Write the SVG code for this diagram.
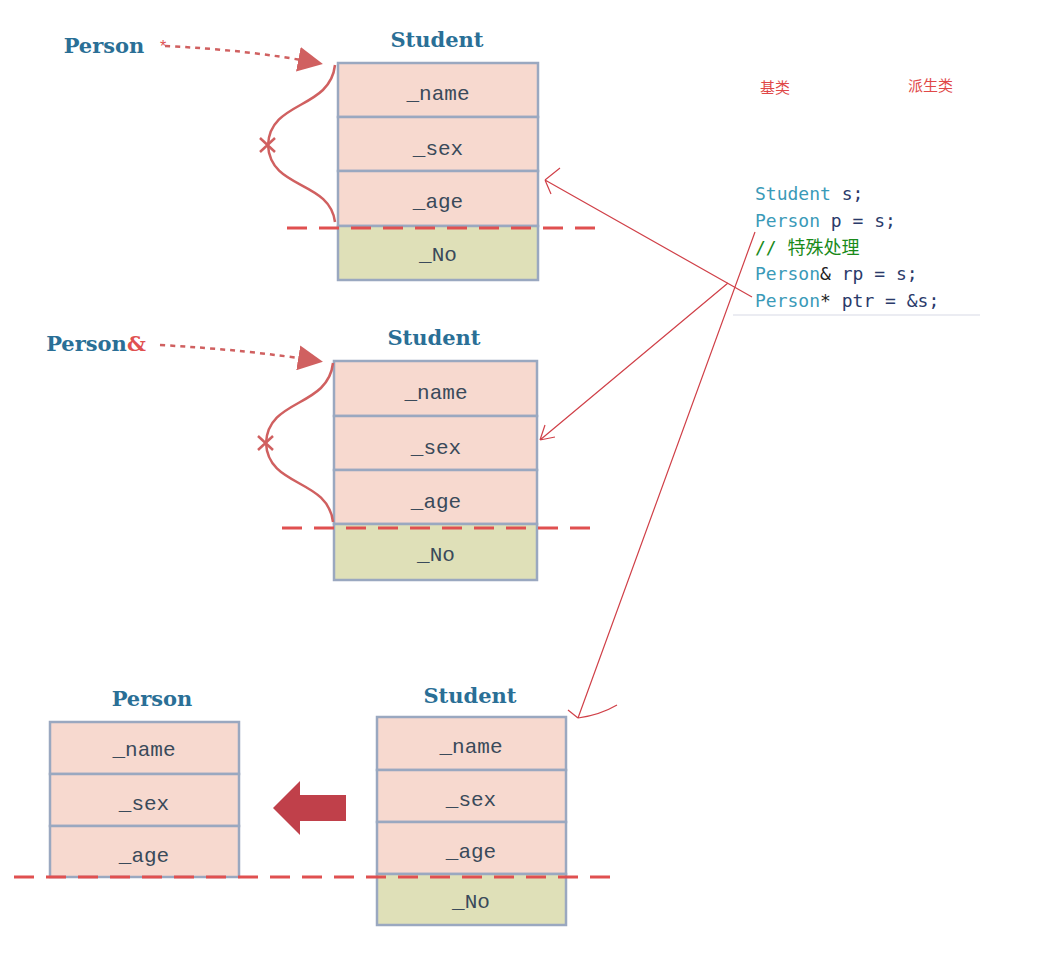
<svg xmlns="http://www.w3.org/2000/svg" width="1052" height="956" viewBox="0 0 1052 956">
<style>
.t{font-family:"DejaVu Serif","Liberation Serif",serif;font-weight:bold;fill:#2a6f96;font-size:21px;text-anchor:middle}
.f{font-family:"Liberation Mono",monospace;font-size:21px;fill:#3a4a5a;text-anchor:middle}
.p{fill:#f7d9cf;stroke:#9aa8c0;stroke-width:2.5}
.g{fill:#dfe0b8;stroke:#9aa8c0;stroke-width:2.5}
.dl{stroke:#e05050;stroke-width:3;stroke-dasharray:20,12;fill:none}
.rl{stroke:#d04048;stroke-width:1.2;fill:none}
.cv{stroke:#d06060;stroke-width:2.5;fill:none}
.c{font-family:"DejaVu Sans Mono",monospace;font-size:18px}
</style>
<defs><marker id="ah" markerWidth="10" markerHeight="10" refX="8" refY="5" orient="auto"><path d="M0,0L10,5L0,10z" fill="#d06060"/></marker></defs>
<rect width="1052" height="956" fill="#fff"/>
<g id="n1">
<text class="t" x="437" y="47">Student</text>
<rect class="p" x="338" y="63" width="200" height="54"/><text class="f" x="438" y="100">_name</text>
<rect class="p" x="338" y="117" width="200" height="54"/><text class="f" x="438" y="155">_sex</text>
<rect class="p" x="338" y="171" width="200" height="55"/><text class="f" x="438" y="208">_age</text>
<rect class="g" x="338" y="226" width="200" height="54"/><text class="f" x="438" y="261">_No</text>
<text class="t" x="104" y="53">Person</text><text x="160" y="52" fill="#e05050" font-size="16" font-family="Liberation Sans,sans-serif">*</text>
</g>
<g id="n2">
<text class="t" x="434" y="345">Student</text>
<rect class="p" x="334" y="361" width="203" height="55"/><text class="f" x="436" y="399">_name</text>
<rect class="p" x="334" y="416" width="203" height="54"/><text class="f" x="436" y="454">_sex</text>
<rect class="p" x="334" y="470" width="203" height="54"/><text class="f" x="436" y="508">_age</text>
<rect class="g" x="334" y="524" width="203" height="56"/><text class="f" x="436" y="561">_No</text>
<text class="t" x="96" y="351">Person<tspan fill="#e05050">&amp;</tspan></text>
</g>
<g id="n3">
<text class="t" x="152" y="706">Person</text>
<rect class="p" x="50" y="722" width="189" height="52"/><text class="f" x="144" y="756">_name</text>
<rect class="p" x="50" y="774" width="189" height="52"/><text class="f" x="144" y="810">_sex</text>
<rect class="p" x="50" y="826" width="189" height="51"/><text class="f" x="144" y="862">_age</text>
</g>
<g id="n4">
<text class="t" x="470" y="703">Student</text>
<rect class="p" x="377" y="717" width="189" height="53"/><text class="f" x="471" y="753">_name</text>
<rect class="p" x="377" y="770" width="189" height="52"/><text class="f" x="471" y="806">_sex</text>
<rect class="p" x="377" y="822" width="189" height="52"/><text class="f" x="471" y="858">_age</text>
<rect class="g" x="377" y="874" width="189" height="51"/><text class="f" x="471" y="908">_No</text>
</g>
<g id="code">
<text x="760" y="93" font-family="Noto Sans CJK SC,sans-serif" font-size="15" fill="#e04848">基类</text>
<text x="908" y="91" font-family="Noto Sans CJK SC,sans-serif" font-size="15" fill="#e04848">派生类</text>
<text class="c" x="755" y="200" fill="#3a9ab8">Student <tspan fill="#2a3a6a">s;</tspan></text>
<text class="c" x="755" y="227" fill="#3a9ab8">Person <tspan fill="#2a3a6a">p = s;</tspan></text>
<text class="c" x="755" y="254" fill="#1a8a1a">// <tspan font-family="Noto Sans CJK SC,sans-serif">特殊处理</tspan></text>
<text class="c" x="755" y="280" fill="#3a9ab8">Person<tspan fill="#222">&amp;</tspan> <tspan fill="#2a3a6a">rp = s;</tspan></text>
<text class="c" x="755" y="307" fill="#3a9ab8">Person<tspan fill="#222">*</tspan> <tspan fill="#2a3a6a">ptr = &amp;s;</tspan></text>
<line x1="733" y1="315" x2="980" y2="315" stroke="#e4e6ee" stroke-width="1.5"/>
</g>
<g id="connectors">
<path class="dl" d="M287,228H597M282,528H595M14,877H622"/>
<path d="M165,46Q250,50 318,63" stroke="#d06060" stroke-width="2.5" stroke-dasharray="5,5" fill="none" marker-end="url(#ah)"/>
<path d="M160,345Q250,350 318,361" stroke="#d06060" stroke-width="2.5" stroke-dasharray="5,5" fill="none" marker-end="url(#ah)"/>
<path class="cv" d="M335,65C330,110 270,100 268,145C270,190 330,180 335,222"/>
<path class="cv" d="M260,138L275,152M275,138L260,152"/>
<path class="cv" d="M333,363C328,408 268,398 266,443C268,488 328,478 333,522"/>
<path class="cv" d="M258,436L273,450M273,436L258,450"/>
<path class="rl" d="M752,297L545,180M545,180L560,168M545,180L551,194"/>
<path class="rl" d="M728,283L540,440M540,440L545,425M540,440L555,437"/>
<path class="rl" d="M755,232L578,718M578,718Q600,715 617,705M578,718L568,710"/>
<path d="M273,808L300,781V795H346V821H300V835Z" fill="#c0404a"/>
</g>
</svg>
